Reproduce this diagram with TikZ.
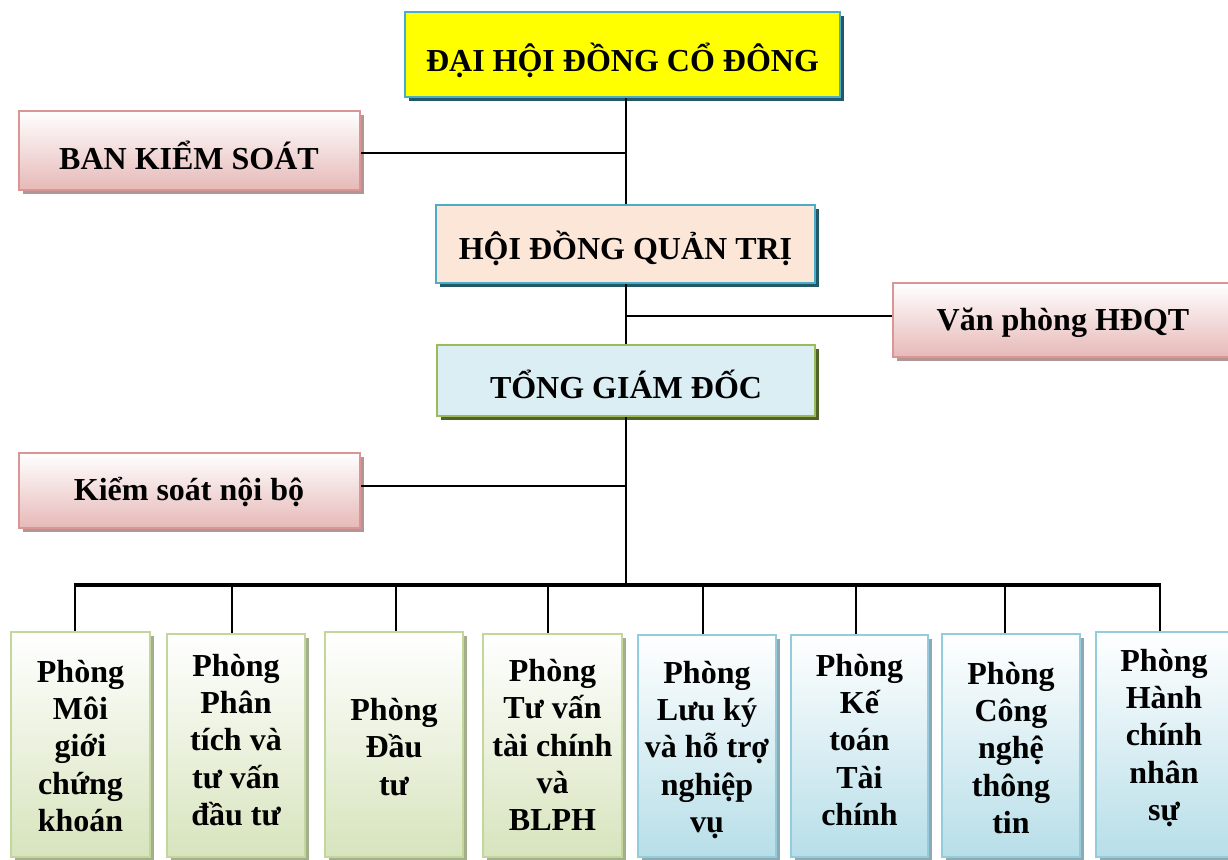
\documentclass[tikz,border=0pt]{standalone}
\usepackage{fontspec}
\setmainfont{Liberation Serif}
\usetikzlibrary{fit,shadows}
\definecolor{ylw}{HTML}{FFFF00}
\definecolor{tealb}{HTML}{4BACC6}
\definecolor{tealsh}{HTML}{215968}
\definecolor{pinkb}{HTML}{D99694}
\definecolor{pinkf}{HTML}{E6B9B8}
\definecolor{pinksh}{HTML}{B39594}
\definecolor{peach}{HTML}{FCE6D8}
\definecolor{lblue}{HTML}{DBEEF4}
\definecolor{greenb}{HTML}{9BBB59}
\definecolor{olivesh}{HTML}{4F6228}
\definecolor{lgreenb}{HTML}{C3D69B}
\definecolor{lgreenf}{HTML}{D7E4BD}
\definecolor{lgreensh}{HTML}{A3AE8C}
\definecolor{lblueb}{HTML}{93CDDD}
\definecolor{lbluef}{HTML}{B7DEE8}
\definecolor{lbluesh}{HTML}{8FA9B2}
\tikzset{
  box/.style={inner sep=0pt, line width=2pt},
  shd/.style={drop shadow={shadow xshift=3pt, shadow yshift=-3pt, opacity=1, fill=#1}},
  topbox/.style={box, draw=tealb, fill=ylw, shd=tealsh},
  pinkbox/.style={box, draw=pinkb, top color=white, bottom color=pinkf, shd=pinksh},
  hdbox/.style={box, draw=tealb, fill=peach, shd=tealsh},
  tgbox/.style={box, draw=greenb, fill=lblue, shd=olivesh},
  gbox/.style={box, draw=lgreenb, top color=white, bottom color=lgreenf, shd=lgreensh},
  bbox/.style={box, draw=lblueb, top color=white, bottom color=lbluef, shd=lbluesh},
  lbl/.style={inner sep=0pt, align=center, font=\fontsize{24}{28}\selectfont\bfseries},
  conn/.style={line width=1.5pt},
  busline/.style={line width=2.4pt}
}
\begin{document}
\begin{tikzpicture}[x=0.75pt,y=-0.75pt]
\useasboundingbox (0,0) rectangle (1228,860);
% boxes
\node[topbox, fit={(405,12) (840,97)}] (dh) {};
\node[pinkbox, fit={(19,111) (360,190)}] (bks) {};
\node[hdbox, fit={(436,205) (815,283)}] (hdqt) {};
\node[pinkbox, fit={(893,283) (1234,357)}] (vp) {};
\node[tgbox, fit={(437,345) (815,416)}] (tgd) {};
\node[pinkbox, fit={(19,453) (360,528)}] (ksnb) {};
\node[gbox, fit={(11,632) (150,857)}] (p1) {};
\node[gbox, fit={(167,634) (305,857)}] (p2) {};
\node[gbox, fit={(325,632) (463,857)}] (p3) {};
\node[gbox, fit={(483,634) (622,857)}] (p4) {};
\node[bbox, fit={(638,635) (776,857)}] (p5) {};
\node[bbox, fit={(791,635) (928,857)}] (p6) {};
\node[bbox, fit={(942,634) (1080,857)}] (p7) {};
\node[bbox, fit={(1096,632) (1234,857)}] (p8) {};
% texts
\node[lbl] at (622.5,60) (dht) {ĐẠI HỘI ĐỒNG CỔ ĐÔNG};
\node[lbl] at (189,155) (bkst) {BAN KIỂM SOÁT};
\node[lbl] at (625.5,248) (hdqtt) {HỘI ĐỒNG QUẢN TRỊ};
\node[lbl] at (1063,323) (vpt) {Văn phòng HĐQT};
\node[lbl] at (626,384) (tgdt) {TỔNG GIÁM ĐỐC};
\node[lbl] at (189,492) (ksnbt) {Kiểm soát nội bộ};
\node[lbl] at (80.5,746) (p1t) {Phòng\\Môi\\giới\\chứng\\khoán};
\node[lbl] at (236,740) (p2t) {Phòng\\Phân\\tích và\\tư vấn\\đầu tư};
\node[lbl] at (394,747) (p3t) {Phòng\\Đầu\\tư};
\node[lbl] at (552.5,745) (p4t) {Phòng\\Tư vấn\\tài chính\\và\\BLPH};
\node[lbl] at (707,750) (p5t) {Phòng\\Lưu ký\\và hỗ trợ\\nghiệp\\vụ};
\node[lbl] at (859.5,740) (p6t) {Phòng\\Kế\\toán\\Tài\\chính};
\node[lbl] at (1011,748) (p7t) {Phòng\\Công\\nghệ\\thông\\tin};
\node[lbl] at (1164,738) (p8t) {Phòng\\Hành\\chính\\nhân\\sự};
% connectors
\coordinate (j1) at (626,153);
\coordinate (j2) at (626,316);
\coordinate (j3) at (626,486);
\coordinate (bus) at (626,585);
\coordinate (d1) at (75,585);
\coordinate (d2) at (232,585);
\coordinate (d3) at (396,585);
\coordinate (d4) at (548,585);
\coordinate (d5) at (703,585);
\coordinate (d6) at (856,585);
\coordinate (d7) at (1005,585);
\coordinate (d8) at (1160,585);
\draw[conn] (dh.south -| j1) -- (hdqt.north -| j1);
\draw[conn] (bks.east |- j1) -- (j1);
\draw[conn] (hdqt.south -| j2) -- (tgd.north -| j2);
\draw[conn] (j2) -- (vp.west |- j2);
\draw[conn] (tgd.south -| j3) -- (bus);
\draw[conn] (ksnb.east |- j3) -- (j3);
\draw[busline] ([xshift=-0.9pt]d1) -- ([xshift=0.9pt]d8);
\foreach \i in {1,...,8}{
  \draw[conn] (d\i) -- (d\i |- p\i.north);
}
\end{tikzpicture}
\end{document}
